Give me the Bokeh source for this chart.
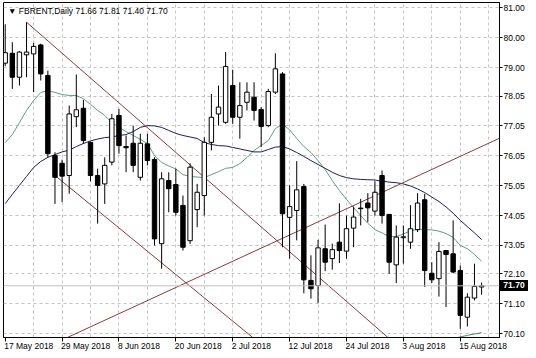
from bokeh.plotting import figure
from bokeh.models import (Range1d, FixedTicker, Label, Span, ColumnDataSource,
                          NumeralTickFormatter, LinearAxis, Div)
from bokeh.layouts import column
from bokeh.embed import file_html
from bokeh.resources import INLINE

# ---------------- data ----------------
symbol = "FBRENT"
timeframe = "Daily"

opens = [79.15, 79.48, 78.68, 79.43, 79.46, 79.76, 78.74, 76.06, 75.80, 75.39,
         77.36, 77.64, 76.50, 75.39, 75.11, 75.84, 77.40, 76.36, 76.47, 75.33,
         76.45, 75.93, 73.11, 75.22, 75.09, 74.39, 73.21, 74.25, 74.72, 76.50,
         77.45, 77.17, 78.40, 77.34, 77.84, 78.01, 77.60, 77.06, 78.18, 78.79,
         73.99, 74.22, 75.02, 71.88, 71.71, 72.94, 72.61, 73.16, 72.86, 73.63,
         74.30, 74.47, 74.20, 75.39, 74.09, 72.40, 73.31, 73.16, 73.58, 74.58,
         72.12, 71.94, 72.88, 72.77, 72.21, 70.65, 71.29, 71.66]
highs = [80.45, 79.85, 79.55, 80.52, 79.83, 79.80, 78.90, 76.17, 75.92, 77.73,
         78.77, 77.92, 76.53, 75.62, 76.00, 77.45, 77.62, 76.73, 77.06, 76.79,
         76.79, 76.00, 75.50, 75.50, 75.62, 74.72, 75.80, 75.11, 76.67, 78.12,
         78.40, 79.52, 78.93, 78.51, 78.51, 78.51, 77.68, 78.29, 79.48, 78.85,
         75.06, 75.87, 75.11, 72.72, 73.24, 73.75, 73.11, 74.46, 74.05, 74.35,
         74.61, 74.80, 75.20, 75.56, 74.10, 73.72, 73.72, 74.40, 74.80, 74.78,
         72.49, 73.16, 72.90, 73.89, 72.38, 71.45, 72.44, 71.81]
lows = [79.05, 78.29, 78.40, 78.68, 78.18, 78.57, 76.00, 74.44, 74.50, 74.78,
        77.01, 76.45, 75.19, 73.78, 74.44, 75.73, 76.12, 75.50, 75.50, 75.22,
        75.73, 73.05, 72.27, 74.16, 74.05, 72.88, 73.10, 73.66, 74.05, 76.23,
        77.06, 77.12, 77.12, 76.62, 77.57, 77.23, 76.34, 77.01, 78.12, 72.99,
        72.61, 73.22, 71.45, 71.27, 71.12, 72.19, 72.24, 72.46, 72.61, 72.99,
        73.72, 73.83, 74.05, 73.78, 72.10, 71.79, 72.44, 72.94, 73.50, 71.66,
        71.79, 71.34, 70.99, 72.12, 70.26, 70.34, 71.21, 71.40]
closes = [79.50, 78.68, 79.52, 79.52, 79.71, 78.79, 76.12, 75.33, 75.37, 77.45,
          77.59, 76.56, 75.39, 75.06, 75.73, 77.29, 76.39, 76.32, 75.73, 76.47,
          75.89, 73.27, 75.28, 74.95, 74.16, 72.99, 75.67, 74.83, 76.50, 77.34,
          77.68, 79.04, 77.34, 77.73, 78.18, 77.57, 77.03, 78.20, 78.96, 74.11,
          74.35, 74.91, 71.90, 71.60, 72.97, 72.49, 72.91, 72.88, 73.61, 74.00,
          74.28, 74.31, 74.83, 74.05, 72.49, 73.33, 73.34, 73.61, 74.47, 72.21,
          71.90, 72.85, 72.75, 72.16, 70.71, 71.32, 71.68, 71.70]

ma_fast = [76.49, 76.76, 77.16, 77.57, 77.90, 78.17, 78.23, 78.17, 78.10, 78.07,
           78.07, 77.96, 77.77, 77.57, 77.40, 77.16, 77.00, 76.86, 76.73, 76.60,
           76.46, 76.06, 75.83, 75.71, 75.61, 75.42, 75.36, 75.34, 75.32, 75.42,
           75.52, 75.63, 75.66, 75.79, 75.99, 76.23, 76.39, 76.56, 76.96, 77.11,
           76.92, 76.63, 76.36, 76.16, 75.89, 75.59, 75.22, 74.89, 74.59, 74.32,
           74.05, 73.79, 73.58, 73.47, 73.35, 73.35, 73.43, 73.55, 73.58, 73.58,
           73.57, 73.53, 73.45, 73.32, 73.05, 72.94, 72.75, 72.52]
ma_slow = [74.45, 74.76, 75.06, 75.36, 75.66, 75.86, 76.00, 76.09, 76.18, 76.24,
           76.36, 76.46, 76.55, 76.61, 76.66, 76.68, 76.73, 76.76, 76.86, 77.00,
           77.06, 77.05, 77.00, 76.90, 76.80, 76.73, 76.68, 76.63, 76.49, 76.43,
           76.39, 76.38, 76.33, 76.28, 76.23, 76.18, 76.18, 76.26, 76.34, 76.36,
           76.28, 76.16, 76.03, 75.89, 75.76, 75.63, 75.50, 75.39, 75.32, 75.28,
           75.26, 75.25, 75.24, 75.20, 75.17, 75.15, 75.11, 75.04, 74.94, 74.82,
           74.67, 74.52, 74.34, 74.13, 73.89, 73.68, 73.47, 73.25]
ma_long_idx = [63, 64, 65, 66, 67]
ma_long = [69.93, 69.99, 70.04, 70.09, 70.13]

tick_idx = [0, 8, 16, 24, 32, 40, 48, 56, 64]
tick_labels = ["17 May 2018", "29 May 2018", "8 Jun 2018", "20 Jun 2018", "2 Jul 2018",
               "12 Jul 2018", "24 Jul 2018", "3 Aug 2018", "15 Aug 2018"]
grid_idx = [4, 8, 12, 16, 20, 24, 28, 32, 36, 40, 44, 48, 52, 56, 60, 64, 68]
y_ticks = [81.00, 80.00, 79.00, 78.05, 77.05, 76.05, 75.05, 74.05, 73.05, 72.10, 71.10, 70.10]

# hand-drawn trend lines (bar index, price)
down_upper_x = [3, 60]
down_upper_y = [80.52, 68.69]
down_lower_x = [7, 40]
down_lower_y = [75.39, 68.96]
up_line_x = [5, 70]
up_line_y = [69.56, 76.69]

last_price = closes[-1]

# ---------------- figure ----------------
FONT = "Liberation Sans"
FS_PX = 8.5
FS = "8.5px"
x_start, x_end = -0.24, 69.52
y_start, y_end = 69.97, 81.18
W, H = 536, 358
ML, MR, MT, MB = 3, 37, 2, 21
ppb = (W - ML - MR) / (x_end - x_start)
ppu = (H - MT - MB) / (y_end - y_start)

p = figure(width=W, height=H, output_backend="svg", toolbar_location=None,
           x_range=Range1d(x_start, x_end), y_range=Range1d(y_start, y_end),
           y_axis_location="right", min_border_left=ML, min_border_right=MR,
           min_border_top=MT, min_border_bottom=MB,
           background_fill_color="white", border_fill_color="white")
p.outline_line_color = "black"
p.outline_line_width = 1

# grids
p.xgrid.ticker = FixedTicker(ticks=grid_idx)
p.ygrid.ticker = FixedTicker(ticks=y_ticks)
for g in (p.xgrid, p.ygrid):
    g.grid_line_color = "#c4c4c4"
    g.grid_line_dash = "3 3"
    g.grid_line_width = 1

# price axis
p.yaxis.ticker = FixedTicker(ticks=y_ticks)
p.yaxis.formatter = NumeralTickFormatter(format="0.00")
p.yaxis.major_label_text_font = FONT
p.yaxis.major_label_text_font_size = FS
p.yaxis.major_label_text_color = "black"
p.yaxis.major_tick_out = 3
p.yaxis.major_tick_in = 0
p.yaxis.minor_tick_out = 0
p.yaxis.minor_tick_in = 0
p.yaxis.major_label_standoff = 1
p.yaxis.axis_line_color = "black"

# time axis: tick marks on the main axis ...
p.xaxis.ticker = FixedTicker(ticks=tick_idx)
p.xaxis.major_label_overrides = {i: " " for i in tick_idx}
p.xaxis.major_label_text_font_size = "1px"
p.xaxis.major_label_standoff = 0
p.xaxis.major_tick_out = 4
p.xaxis.major_tick_in = 0
p.xaxis.minor_tick_out = 0
p.xaxis.minor_tick_in = 0
p.xaxis.axis_line_color = "black"

# ... and the date labels left-aligned at each tick (MT4 style) on a second axis
EM = {" ": 0.278, "M": 0.833, "a": 0.556, "y": 0.5, "J": 0.5, "u": 0.556, "n": 0.556,
      "l": 0.222, "A": 0.667, "g": 0.556}
def text_w(s):
    return sum(EM.get(ch, 0.556) for ch in s) * FS_PX

label_pos = [round(t + (text_w(lab) / 2.0 - 1.0) / ppb, 4) for t, lab in zip(tick_idx, tick_labels)]
date_axis = LinearAxis(ticker=FixedTicker(ticks=label_pos),
                       major_label_overrides=dict(zip(label_pos, tick_labels)),
                       major_label_text_font=FONT, major_label_text_font_size=FS,
                       major_label_text_color="black", major_label_standoff=-5,
                       major_tick_out=0, major_tick_in=0, minor_tick_out=0, minor_tick_in=0,
                       axis_line_color=None)
p.add_layout(date_axis, "below")

# current price line
p.add_layout(Span(location=last_price, dimension="width", line_color="#c0c0c0", line_width=1))

# moving averages
idx = list(range(len(closes)))
p.line(idx, ma_fast, line_color="#5e9e84", line_width=1)
p.line(idx, ma_slow, line_color="#1e1e5a", line_width=1)
p.line(ma_long_idx, ma_long, line_color="#3f8f5a", line_width=1)

# trend lines
tl_color = "#8e3a3a"
p.line(down_upper_x, down_upper_y, line_color=tl_color, line_width=1)
p.line(down_lower_x, down_lower_y, line_color=tl_color, line_width=1)
p.line(up_line_x, up_line_y, line_color=tl_color, line_width=1)

# candles
up = [c >= o for o, c in zip(opens, closes)]
src = ColumnDataSource(dict(
    x=idx, high=highs, low=lows,
    top=[max(o, c) for o, c in zip(opens, closes)],
    bottom=[min(o, c) for o, c in zip(opens, closes)],
    fill=["white" if u else "black" for u in up],
))
p.segment(x0="x", y0="low", x1="x", y1="high", source=src, line_color="black", line_width=1)
p.vbar(x="x", width=0.62, top="top", bottom="bottom", fill_color="fill",
       line_color="black", line_width=1, source=src)

# header
header = "\u25bc {},{}  {:.2f} {:.2f} {:.2f} {:.2f}".format(
    symbol, timeframe, opens[-1], highs[-1], lows[-1], closes[-1])
p.add_layout(Label(x=x_start + 4.5 / ppb, y=y_end - 3.5 / ppu, text=header,
                   text_font=FONT, text_font_size=FS, text_color="black",
                   text_align="left", text_baseline="top"))

# current price tag on the price axis (placed over the axis strip)
tag_w, tag_h = 28, 11
tag_left = W - MR + 1
tag_top = round(MT + (y_end - last_price) * ppu - tag_h / 2.0)
tag = Div(text="{:.2f}".format(last_price), width=tag_w, height=tag_h,
          styles={"position": "absolute", "left": "{}px".format(tag_left),
                  "top": "{}px".format(tag_top), "background-color": "black",
                  "color": "white", "font-family": FONT, "font-size": FS,
                  "font-weight": "bold", "line-height": "{}px".format(tag_h),
                  "text-align": "center", "margin": "0", "padding": "0",
                  "overflow": "hidden"})

root = column(p, tag, styles={"position": "relative"})

open("out.html", "w").write(file_html(root, INLINE))
